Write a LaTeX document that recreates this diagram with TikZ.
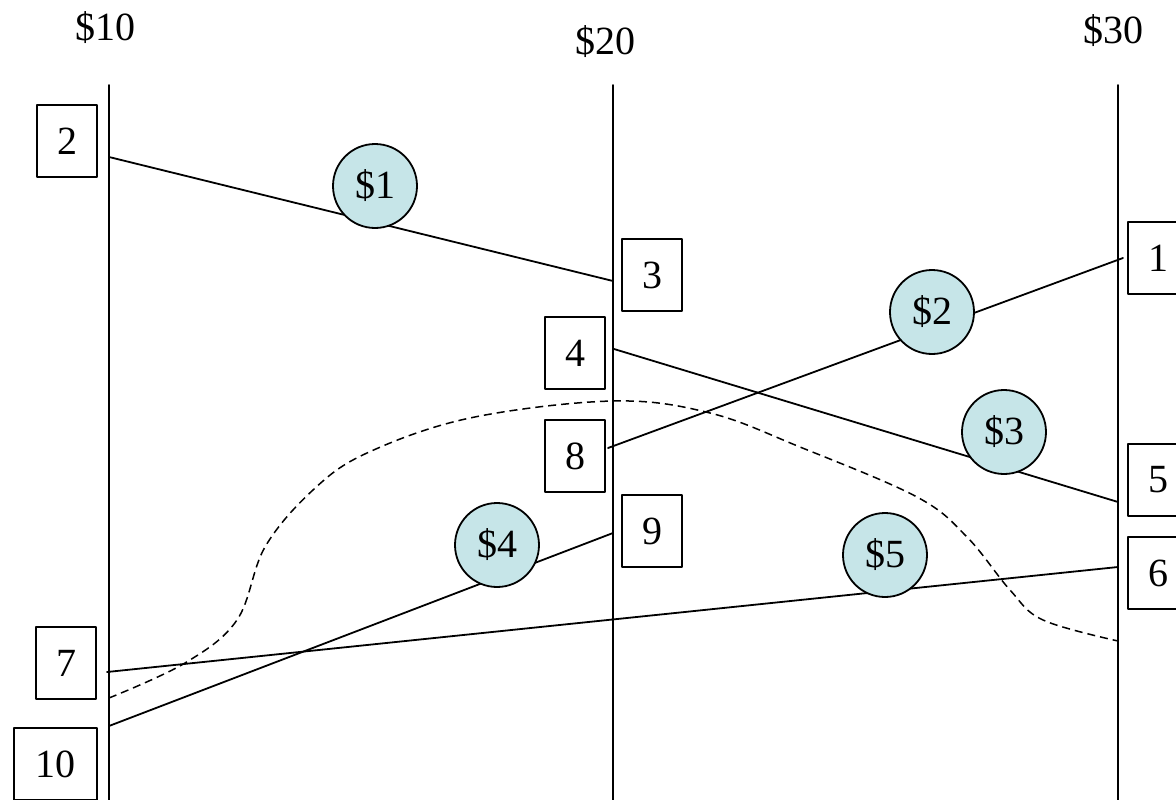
\documentclass[tikz,border=0pt]{standalone}
\usepackage{fontspec}
\setmainfont{Liberation Serif}
\definecolor{coinfill}{RGB}{198,229,232}
\begin{document}
\begin{tikzpicture}[x=1pt,y=-1pt,line join=round,line cap=round,
  font=\fontsize{40}{44}\selectfont]
	\tikzset{price/.style={draw,line width=1.8pt,minimum width=60pt,minimum height=72pt,inner sep=0pt},
		coin/.style={circle,draw,line width=1.8pt,fill=coinfill,minimum size=84pt,inner sep=0pt},
		trade/.style={line width=1.8pt}}
	\useasboundingbox (0,0) rectangle (1176,800);
	% price levels
	\node (lab10) at (105,28) {\$10};
	\node (lab20) at (605,42) {\$20};
	\node (lab30) at (1113,31) {\$30};
	\foreach \x/\p in {109/10,613/20,1118/30}
	\draw[trade] (\x,85) coordinate (top\p) -- (\x,800) coordinate (bot\p);
	% orders
	\foreach \n/\x/\y in {2/67/141,3/652/275,4/575/353,8/575/456,9/652/531,1/1158/258,5/1158/480,6/1158/573,7/66/663}
	\node[price] (o\n) at (\x,\y) {\n};
	\node[price,minimum width=83pt] (o10) at (55.5,764) {10};
	% ends of the trades
	\coordinate (e2) at (109,157);
	\coordinate (e3) at (613,281);
	\coordinate (e4) at (614,349);
	\coordinate (e5) at (1118,502);
	\coordinate (e8) at (608,448);
	\coordinate (e1) at (1123,258);
	\coordinate (e9) at (613,533);
	\coordinate (e10) at (109,726);
	\coordinate (e6) at (1118,567);
	\coordinate (e7) at (107,672);
	\draw[trade] (e2)--(e3);
	\draw[trade] (e4)--(e5);
	\draw[trade] (e8)--(e1);
	\draw[trade] (e9)--(e10);
	\draw[trade] (e6)--(e7);
	\draw[line width=1.5pt,line cap=butt,dash pattern=on 8pt off 5pt] plot[smooth,tension=0.6] coordinates
	{(109,698) (185,663) (237,620) (265,547) (313,490) (367,453) (470,418) (613,401)
		(710,413) (800,447) (917,497) (967,537) (1010,590) (1043,620) (1118,641)};
	% gains
	\foreach \g/\x/\y in {1/375/186,2/932/312,3/1004/432,4/497/545,5/885/555}
	\node[coin] (g\g) at (\x,\y) {\$\g};
\end{tikzpicture}
\end{document}
